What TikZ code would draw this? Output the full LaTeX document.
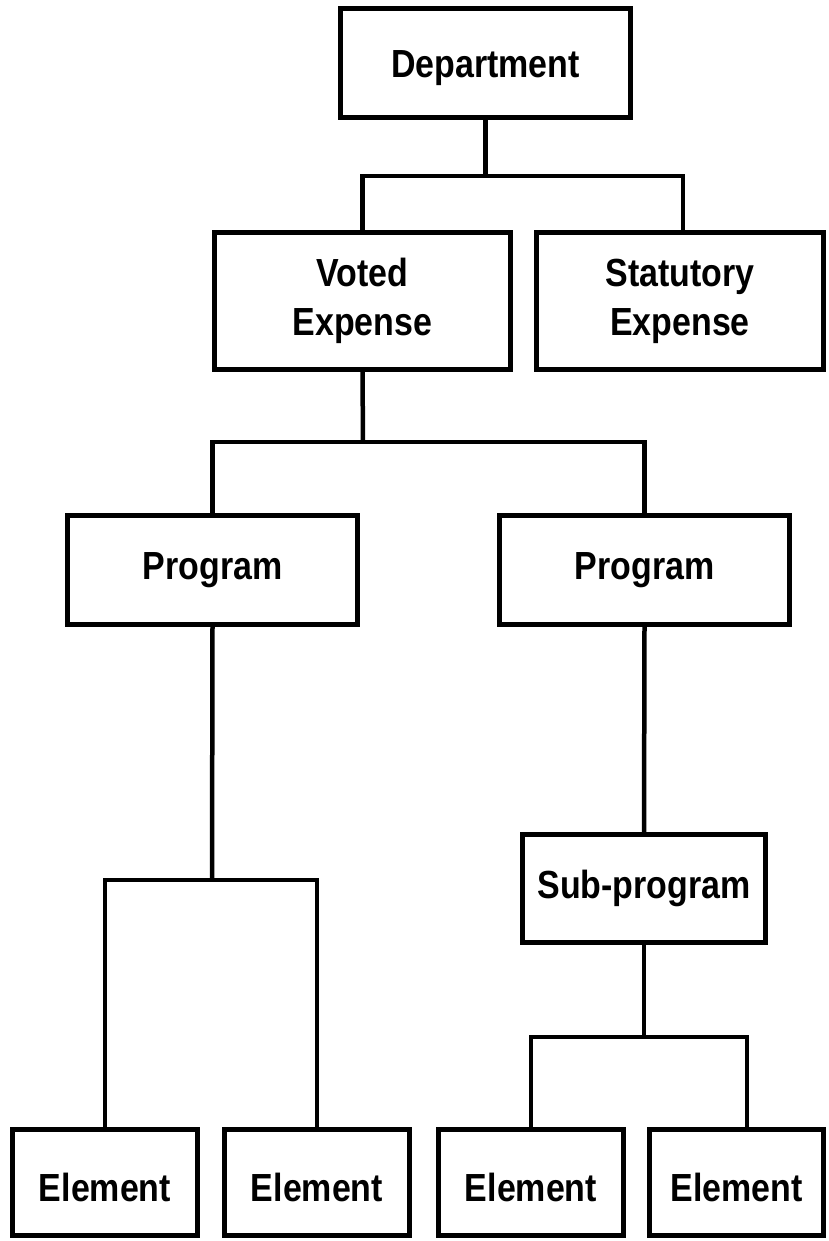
\documentclass[tikz,border=0pt]{standalone}
\usepackage{fontspec}
\usepackage{graphicx}
\setmainfont{Liberation Sans}
\newcommand{\boxtxt}[1]{\scalebox{0.97}[1.12]{\begin{tabular}{@{}c@{}}#1\end{tabular}}}
\begin{document}
\begin{tikzpicture}[x=1pt,y=-1pt,
  box/.style={draw=black,line width=5pt,fill=white,inner sep=0pt,align=center,
    font=\fontsize{35}{44.5}\selectfont\bfseries},
  elem/.style={box,minimum height=106pt,text depth=0pt},
  conn/.style={draw=black,line width=4.5pt}]
\useasboundingbox[fill=white] (0,0) rectangle (828,1241);
\node[box,minimum width=290pt,minimum height=109pt,text depth=8pt] (dept) at (485.5,63) {\boxtxt{Department}};
\node[box,minimum width=296pt,minimum height=137pt] (voted) at (362.5,301) {\boxtxt{Voted\\Expense}};
\node[box,minimum width=287pt,minimum height=137pt] (stat) at (680,301) {\boxtxt{Statutory\\Expense}};
\node[box,minimum width=290pt,minimum height=109pt] (progL) at (212.5,570) {\boxtxt{Program}};
\node[box,minimum width=290pt,minimum height=109pt] (progR) at (644.5,570) {\boxtxt{Program}};
\node[box,minimum width=243pt,minimum height=108pt] (sub) at (644,888.5) {\boxtxt{Sub-program}};
\node[elem,minimum width=185pt] (e1) at (105,1182.5) {\boxtxt{Element}};
\node[elem,minimum width=185pt] (e2) at (317,1182.5) {\boxtxt{Element}};
\node[elem,minimum width=185pt] (e3) at (531,1182.5) {\boxtxt{Element}};
\node[elem,minimum width=174pt] (e4) at (736.5,1182.5) {\boxtxt{Element}};
\coordinate (j1) at (485.5,176);
\coordinate (j2) at (363,442);
\coordinate (j3) at (212,880);
\coordinate (j4) at (644,1037);
\draw[conn] (dept.south) -- (j1);
\draw[conn] (voted.north) |- (j1) -| ([xshift=3pt]stat.north);
\draw[conn] (voted.south) -- (j2);
\draw[conn] (progL.north) |- (j2) -| (progR.north);
\draw[conn] (progL.south) -- (j3);
\draw[conn] (e1.north) |- (j3) -| (e2.north);
\draw[conn] (progR.south) -- (sub.north);
\draw[conn] (sub.south) -- (j4);
\draw[conn] (e3.north) |- (j4) -| ([xshift=10.5pt]e4.north);
\end{tikzpicture}
\end{document}
